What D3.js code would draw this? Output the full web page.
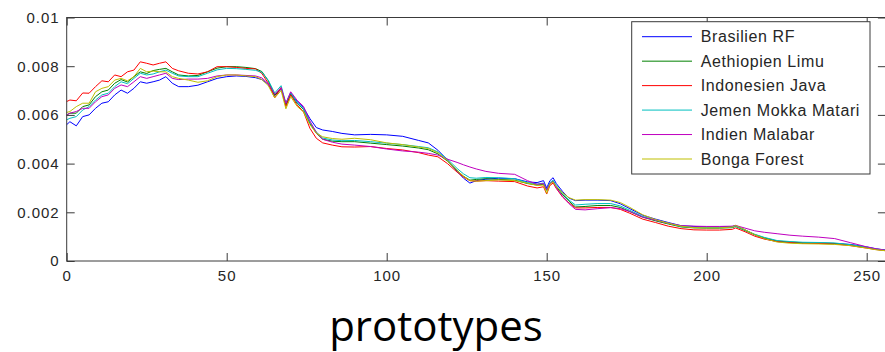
<!DOCTYPE html>
<html>
<head>
<meta charset="utf-8">
<script src="https://cdn.jsdelivr.net/npm/d3@7"></script>
<style>
  html, body { margin: 0; padding: 0; background: #fff; }
  svg { display: block; }
  .tick text { font-family: "Liberation Sans", Arial, sans-serif; font-size: 15px; fill: #262626; letter-spacing: 1px; }
</style>
</head>
<body>
<svg id="chart" width="885" height="352"></svg>
<script>
const xs = [0,1,3,5,7,9,11,13,15,17,19,21,23,25,27,29,31,33,35,38,41,44,47,50,53,56,59,61,63,65,67,68.5,70,72,74,76,78,80,83,86,90,95,100,105,110,113,116,119,122,124,126,128,131,135,140,144,147,149,150,151,152,153,155,157,159,162,166,170,173,176,180,184,188,192,196,200,204,208,209,212,215,218,222,226,230,235,240,245,250,253,256];

const brasilienRF = [0.00560,0.00572,0.00555,0.00593,0.00600,0.00627,0.00648,0.00654,0.00682,0.00702,
0.00689,0.00709,0.00736,0.00730,0.00736,0.00743,0.00757,0.00730,0.00716,0.00716,
0.00722,0.00736,0.00750,0.00757,0.00760,0.00758,0.00753,0.00745,0.00725,0.00680,
0.00705,0.00645,0.00690,0.00655,0.00630,0.00585,0.00548,0.00538,0.00532,0.00524,
0.00518,0.00520,0.00518,0.00512,0.00495,0.00485,0.00455,0.00415,0.00368,0.00340,
0.00320,0.00330,0.00336,0.00340,0.00338,0.00325,0.00322,0.00330,0.00300,0.00330,
0.00342,0.00318,0.00285,0.00258,0.00248,0.00250,0.00250,0.00248,0.00235,0.00215,
0.00188,0.00172,0.00158,0.00145,0.00142,0.00140,0.00140,0.00142,0.00146,0.00128,
0.00108,0.00092,0.00080,0.00076,0.00073,0.00074,0.00072,0.00068,0.00058,0.00050,
0.00045];

const aethiopienLimu = [0.00600,0.00607,0.00607,0.00634,0.00641,0.00675,0.00695,0.00702,0.00730,0.00745,
0.00735,0.00757,0.00777,0.00770,0.00782,0.00787,0.00791,0.00777,0.00764,0.00760,
0.00762,0.00777,0.00792,0.00798,0.00798,0.00795,0.00790,0.00778,0.00740,0.00680,
0.00712,0.00640,0.00685,0.00648,0.00622,0.00565,0.00525,0.00500,0.00492,0.00490,
0.00490,0.00484,0.00478,0.00472,0.00464,0.00457,0.00440,0.00410,0.00372,0.00348,
0.00332,0.00335,0.00338,0.00335,0.00332,0.00318,0.00312,0.00315,0.00290,0.00318,
0.00328,0.00305,0.00272,0.00245,0.00222,0.00224,0.00228,0.00228,0.00220,0.00203,
0.00180,0.00165,0.00152,0.00140,0.00136,0.00135,0.00135,0.00137,0.00142,0.00125,
0.00108,0.00095,0.00082,0.00078,0.00075,0.00073,0.00072,0.00065,0.00055,0.00048,
0.00043];

const indonesienJava = [0.00655,0.00661,0.00658,0.00690,0.00689,0.00716,0.00740,0.00736,0.00764,0.00757,
0.00777,0.00784,0.00818,0.00812,0.00805,0.00812,0.00818,0.00791,0.00781,0.00771,
0.00768,0.00777,0.00798,0.00798,0.00795,0.00791,0.00789,0.00770,0.00730,0.00670,
0.00712,0.00634,0.00682,0.00641,0.00613,0.00545,0.00504,0.00485,0.00476,0.00469,
0.00468,0.00470,0.00462,0.00456,0.00445,0.00435,0.00428,0.00400,0.00365,0.00345,
0.00330,0.00328,0.00330,0.00328,0.00326,0.00308,0.00300,0.00305,0.00275,0.00310,
0.00320,0.00298,0.00262,0.00238,0.00218,0.00218,0.00220,0.00220,0.00212,0.00196,
0.00172,0.00158,0.00143,0.00133,0.00128,0.00127,0.00127,0.00130,0.00136,0.00120,
0.00102,0.00090,0.00080,0.00076,0.00073,0.00072,0.00070,0.00063,0.00053,0.00047,
0.00042];

const jemenMokkaMatari = [0.00580,0.00586,0.00593,0.00620,0.00634,0.00661,0.00682,0.00689,0.00716,0.00736,
0.00728,0.00750,0.00771,0.00764,0.00768,0.00777,0.00784,0.00771,0.00760,0.00757,
0.00757,0.00771,0.00785,0.00791,0.00790,0.00787,0.00783,0.00775,0.00742,0.00690,
0.00720,0.00648,0.00692,0.00650,0.00625,0.00570,0.00530,0.00505,0.00497,0.00494,
0.00495,0.00490,0.00484,0.00478,0.00470,0.00465,0.00448,0.00418,0.00380,0.00358,
0.00342,0.00340,0.00343,0.00342,0.00338,0.00322,0.00316,0.00320,0.00295,0.00322,
0.00332,0.00310,0.00278,0.00250,0.00230,0.00233,0.00236,0.00236,0.00226,0.00208,
0.00183,0.00168,0.00155,0.00142,0.00138,0.00137,0.00137,0.00139,0.00143,0.00127,
0.00110,0.00097,0.00084,0.00080,0.00077,0.00076,0.00074,0.00067,0.00057,0.00049,
0.00044];

const indienMalabar = [0.00600,0.00607,0.00614,0.00627,0.00627,0.00654,0.00675,0.00682,0.00709,0.00723,
0.00716,0.00736,0.00757,0.00750,0.00757,0.00764,0.00771,0.00750,0.00745,0.00747,
0.00747,0.00750,0.00760,0.00764,0.00764,0.00762,0.00760,0.00752,0.00728,0.00685,
0.00712,0.00648,0.00695,0.00660,0.00635,0.00575,0.00528,0.00500,0.00488,0.00480,
0.00476,0.00470,0.00460,0.00452,0.00447,0.00442,0.00435,0.00418,0.00405,0.00395,
0.00386,0.00378,0.00368,0.00360,0.00356,0.00330,0.00315,0.00318,0.00293,0.00318,
0.00326,0.00300,0.00265,0.00235,0.00212,0.00210,0.00215,0.00219,0.00215,0.00203,
0.00180,0.00168,0.00155,0.00145,0.00143,0.00142,0.00142,0.00143,0.00146,0.00135,
0.00124,0.00118,0.00112,0.00106,0.00102,0.00098,0.00092,0.00075,0.00058,0.00050,
0.00044];

const bongaForest = [0.00610,0.00614,0.00634,0.00648,0.00648,0.00695,0.00709,0.00716,0.00743,0.00750,
0.00740,0.00757,0.00791,0.00777,0.00780,0.00777,0.00777,0.00757,0.00750,0.00743,
0.00734,0.00740,0.00757,0.00764,0.00764,0.00760,0.00757,0.00745,0.00720,0.00670,
0.00700,0.00625,0.00675,0.00635,0.00612,0.00560,0.00525,0.00510,0.00503,0.00500,
0.00504,0.00498,0.00485,0.00478,0.00468,0.00462,0.00445,0.00412,0.00372,0.00348,
0.00330,0.00328,0.00330,0.00333,0.00330,0.00320,0.00310,0.00312,0.00278,0.00315,
0.00325,0.00305,0.00280,0.00260,0.00250,0.00252,0.00252,0.00250,0.00240,0.00220,
0.00190,0.00170,0.00155,0.00143,0.00137,0.00136,0.00136,0.00140,0.00146,0.00128,
0.00108,0.00092,0.00078,0.00073,0.00071,0.00070,0.00068,0.00063,0.00053,0.00046,
0.00042];

const seriesNames = ["Brasilien RF","Aethiopien Limu","Indonesien Java","Jemen Mokka Matari","Indien Malabar","Bonga Forest"];
const seriesValues = [brasilienRF, aethiopienLimu, indonesienJava, jemenMokkaMatari, indienMalabar, bongaForest];
const xTickValues = [0,50,100,150,200,250];
const yTickValues = [0,0.002,0.004,0.006,0.008,0.01];
const yTickLabels = ["0","0.002","0.004","0.006","0.008","0.01"];
const titleText = "prototypes";

const colors = ["#0000ff","#008000","#ff0000","#00bfbf","#bf00bf","#bfbf00"];

const svg = d3.select("#chart");
const L = 66.7, R = 885.9, T = 17.5, B = 261;
const x = d3.scaleLinear().domain([0,256]).range([L,R]);
const y = d3.scaleLinear().domain([0,0.01]).range([B,T]);
const axisColor = "#3a3a3a";

// lines
const line = d3.line().x((d,i) => x(xs[i])).y(d => y(d));
svg.append("g").selectAll("path").data(seriesValues).join("path")
  .attr("d", d => line(d))
  .attr("fill","none")
  .attr("stroke",(d,i)=>colors[i])
  .attr("stroke-width",1)
  .attr("stroke-linejoin","round");

// axes
function styleAxis(g){
  g.select(".domain").remove();
  g.selectAll(".tick line").attr("stroke",axisColor);
}
svg.append("g").attr("transform",`translate(0,${B})`)
  .call(d3.axisBottom(x).tickValues(xTickValues).tickFormat(d3.format("d")).tickSize(-8).tickPadding(9.5))
  .call(styleAxis);
svg.append("g").attr("transform",`translate(0,${T})`)
  .call(d3.axisTop(x).tickValues(xTickValues).tickFormat("").tickSize(-8))
  .call(styleAxis);
svg.append("g").attr("transform",`translate(${L},0)`)
  .call(d3.axisLeft(y).tickValues(yTickValues).tickFormat((d,i)=>yTickLabels[i]).tickSize(-8).tickPadding(7))
  .call(styleAxis);
svg.append("g").attr("transform",`translate(${R},0)`)
  .call(d3.axisRight(y).tickValues(yTickValues).tickFormat("").tickSize(-8))
  .call(styleAxis);

svg.append("rect").attr("x",L).attr("y",T).attr("width",R-L).attr("height",B-T)
  .attr("fill","none").attr("stroke",axisColor).attr("stroke-width",1);

// legend
const lg = svg.append("g");
lg.append("rect").attr("x",631.7).attr("y",21.7).attr("width",238.3).attr("height",152.3)
  .attr("fill","#fff").attr("stroke",axisColor).attr("stroke-width",1);
const rows = lg.selectAll("g.row").data(seriesNames).join("g")
  .attr("transform",(d,i)=>`translate(0,${36.7 + i*24.46})`);
rows.append("line").attr("x1",642).attr("x2",692).attr("y1",0).attr("y2",0)
  .attr("stroke",(d,i)=>colors[i]).attr("stroke-width",1);
rows.append("text").attr("x",700.7).attr("y",0).attr("dy","0.36em")
  .style("font-family",'"Liberation Sans", Arial, sans-serif').style("font-size","16px")
  .style("letter-spacing","0.6px").attr("fill","#262626").text(d=>d);

// title
svg.append("text").attr("x",436).attr("y",341).attr("text-anchor","middle")
  .style("font-family",'"Open Sans", sans-serif').style("font-size","42px").attr("fill","#000")
  .text(titleText);
</script>
</body>
</html>
